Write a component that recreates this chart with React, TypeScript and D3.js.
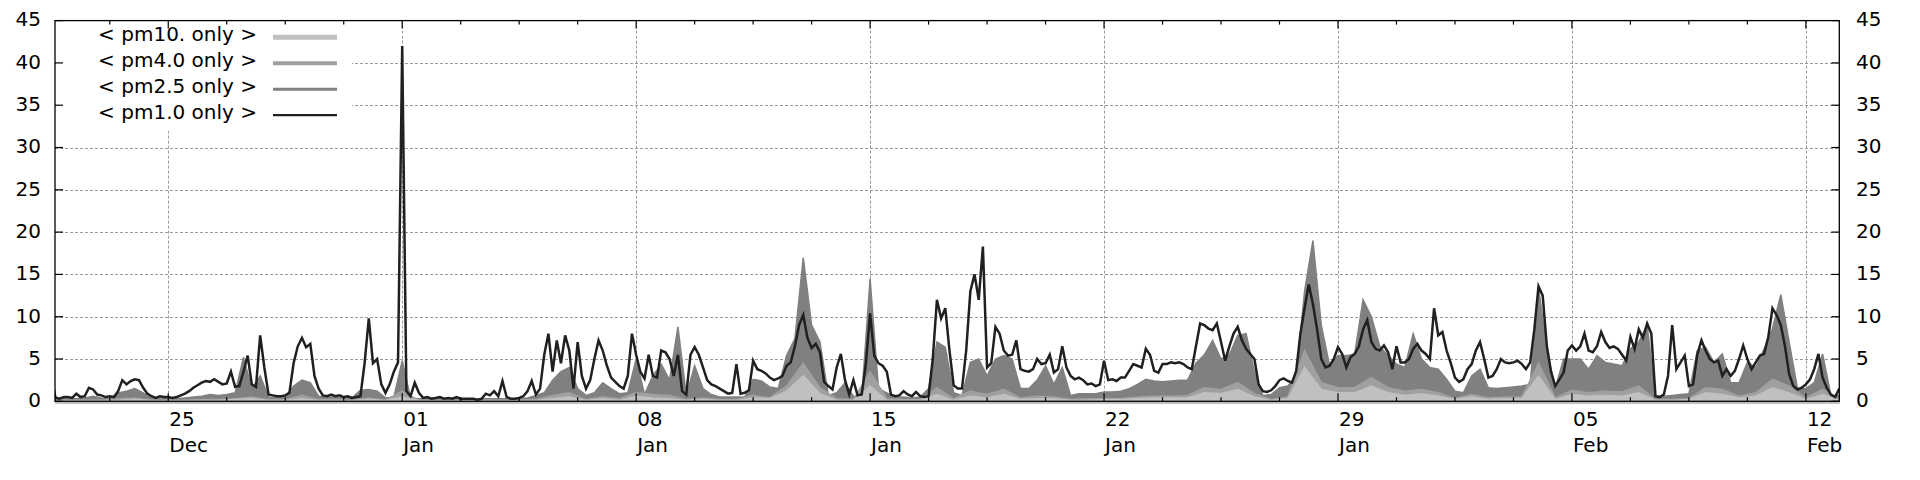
import { useEffect, useRef } from "react";
import * as d3 from "d3";

// first sample of every series: 21 Dec 12:00
const START = Date.UTC(2019, 11, 21, 12);
const HOUR = 3600 * 1000;

// pm1.0, one value every 3 hours
const pm1Only = [
  3.2, 0.4, 0.3, 0.5, // Dec 21 12h..21h
  0.5, 0.4, 0.9, 0.5, 0.6, 1.6, 1.4, 0.8, // Dec 22
  0.7, 0.5, 0.6, 0.5, 1.2, 2.5, 2.0, 2.4,
  2.6, 2.5, 1.6, 0.9, 0.6, 0.4, 0.6, 0.5,
  0.5, 0.4, 0.5, 0.7, 0.9, 1.2, 1.6, 1.9, // Dec 25
  2.2, 2.4, 2.3, 2.6, 2.3, 2.0, 2.1, 3.5,
  1.7, 1.8, 3.5, 5.4, 2.0, 1.7, 7.8, 4.0,
  0.8, 0.7, 0.6, 0.6, 0.7, 1.0, 4.5, 6.5,
  7.5, 6.4, 6.8, 3.0, 1.5, 0.7, 0.6, 0.8,
  0.6, 0.7, 0.5, 0.6, 0.4, 0.5, 0.6, 4.5,
  9.8, 4.5, 5.0, 2.0, 1.0, 2.0, 3.5, 4.6, // Dec 31
  42, 1.2, 0.6, 2.2, 1.0, 0.4, 0.5, 0.3, // Jan 1
  0.4, 0.5, 0.3, 0.4, 0.3, 0.5, 0.3, 0.3,
  0.3, 0.3, 0.2, 0.3, 0.9, 0.7, 1.2, 0.6,
  2.4, 0.5, 0.3, 0.3, 0.4, 0.6, 1.2, 2.4,
  0.8, 1.5, 5.5, 8.0, 3.5, 7.2, 4.5, 7.8,
  6.0, 1.5, 7.0, 3.0, 1.5, 2.5, 5.0, 7.2,
  6.0, 4.2, 2.8, 2.3, 1.8, 1.5, 3.0, 8.0,
  5.5, 3.5, 2.7, 5.5, 3.0, 2.8, 6.0, 5.8, // Jan 8
  5.0, 3.0, 5.5, 1.2, 0.8, 5.5, 6.4, 5.5,
  4.0, 2.5, 2.0, 1.8, 1.5, 1.2, 0.9, 1.0,
  4.4, 0.9, 1.0, 1.3, 4.8, 3.8, 3.6, 3.3,
  2.8, 2.5, 2.7, 3.0, 4.2, 4.6, 6.5, 9.0,
  10.2, 7.5, 6.3, 6.8, 5.8, 2.3, 1.8, 1.4,
  4.0, 5.6, 2.5, 0.8, 2.5, 0.7, 0.8, 4.5,
  10.4, 5.4, 4.5, 4.2, 3.5, 0.8, 0.6, 0.7, // Jan 15
  1.2, 0.8, 0.6, 1.1, 0.6, 0.5, 0.6, 5.0,
  12.0, 9.8, 11.0, 6.0, 1.9, 1.5, 1.5, 6.0,
  13.0, 15.0, 12.0, 18.3, 4.0, 4.5, 8.8, 8.0,
  6.0, 5.4, 5.5, 7.2, 3.8, 3.6, 3.5, 3.8,
  5.0, 4.4, 4.5, 5.5, 3.4, 3.8, 6.5, 4.0,
  3.0, 2.6, 2.8, 2.5, 2.0, 2.1, 1.8, 2.0,
  4.8, 2.5, 2.6, 2.4, 2.8, 2.8, 3.6, 4.4, // Jan 22
  4.2, 4.0, 6.2, 5.5, 3.6, 3.4, 4.4, 4.4,
  4.6, 4.5, 4.6, 4.4, 4.0, 3.8, 6.5, 9.2,
  9.0, 8.6, 8.4, 9.2, 7.0, 4.8, 6.5, 8.0,
  8.8, 7.2, 6.2, 5.6, 5.0, 2.0, 1.2, 1.1,
  1.3, 1.8, 2.5, 2.7, 2.4, 2.2, 3.6, 8.0,
  11.0, 13.8, 11.5, 8.5, 5.0, 4.0, 4.2, 5.0,
  6.4, 5.6, 4.0, 5.2, 5.6, 6.5, 8.5, 9.6, // Jan 29
  7.0, 6.2, 6.0, 6.6, 5.8, 3.8, 6.5, 4.6,
  4.6, 5.0, 6.2, 6.8, 6.0, 5.6, 5.0, 11.0,
  7.8, 8.2, 6.0, 4.5, 2.8, 2.3, 2.6, 3.8,
  4.4, 6.0, 7.0, 5.0, 2.8, 3.0, 3.8, 5.0,
  4.6, 4.5, 4.6, 4.8, 4.4, 3.8, 4.6, 8.5,
  13.6, 12.5, 6.5, 3.5, 1.8, 2.6, 3.4, 6.0,
  6.6, 6.0, 6.5, 8.0, 6.0, 5.8, 6.5, 8.2, // Feb 5
  7.0, 6.3, 6.5, 6.2, 5.5, 4.8, 7.6, 6.2,
  8.5, 7.5, 9.2, 8.0, 0.6, 0.5, 0.8, 3.0,
  9.0, 3.8, 4.6, 5.4, 1.8, 2.0, 5.5, 7.2,
  6.0, 5.0, 4.6, 4.8, 3.0, 3.8, 3.0, 3.6,
  5.0, 6.6, 5.0, 3.8, 4.6, 5.4, 5.6, 7.6,
  11.0, 10.2, 9.0, 6.5, 3.2, 1.8, 1.4, 1.6,
  2.0, 2.6, 3.8, 5.6, 2.8, 1.6, 0.8, 0.5, // Feb 12
  1.5,
];

// pm2.5, one value every 6 hours
const pm25Only = [
  0.8, 0.3,
  0.3, 0.3, 0.4, 0.6,
  0.4, 0.3, 1.0, 1.2,
  1.5, 1.0, 0.4, 0.3,
  0.3, 0.3, 0.4, 0.5, // Dec 25
  0.6, 0.8, 0.7, 0.8,
  1.0, 5.2, 1.5, 3.0,
  0.5, 0.4, 0.5, 1.8,
  2.5, 2.2, 0.6, 0.5,
  0.5, 0.4, 0.4, 1.3,
  1.4, 1.2, 0.4, 0.5,
  4.8, 0.4, 0.3, 0.3, // Jan 1
  0.3, 0.3, 0.3, 0.3,
  0.3, 0.2, 0.3, 0.3,
  0.3, 0.3, 0.3, 0.4,
  0.7, 1.0, 2.5, 3.5,
  4.0, 1.5, 0.7, 1.0,
  2.2, 1.5, 0.9, 1.0,
  5.0, 0.8, 3.0, 4.4, // Jan 8
  2.5, 8.8, 0.7, 4.2,
  1.5, 0.8, 0.5, 0.5,
  0.5, 0.5, 2.6, 2.4,
  1.7, 1.5, 5.4, 7.4,
  17.0, 9.0, 7.0, 0.7,
  1.0, 2.2, 0.6, 0.5,
  14.5, 1.5, 1.0, 0.5, // Jan 15
  0.5, 0.4, 0.5, 1.5,
  7.0, 6.4, 1.0, 0.7,
  4.6, 5.0, 3.0, 5.0,
  5.4, 5.0, 1.5, 1.5,
  2.5, 4.2, 2.0, 4.0,
  0.7, 0.9, 0.9, 0.9,
  1.1, 1.1, 1.2, 1.5, // Jan 22
  2.0, 2.6, 2.4, 2.3,
  2.4, 2.5, 2.5, 4.5,
  5.5, 7.2, 5.0, 5.5,
  7.8, 8.0, 3.5, 0.7,
  0.8, 1.6, 1.8, 3.0,
  13.0, 19.0, 9.0, 4.2,
  5.4, 5.4, 5.6, 12.0, // Jan 29
  10.0, 6.5, 5.4, 4.4,
  4.0, 8.0, 5.0, 4.0,
  3.8, 2.6, 1.2, 1.0,
  3.0, 3.8, 1.6, 1.5,
  1.6, 1.7, 1.8, 2.0,
  13.5, 6.0, 1.5, 5.0,
  5.0, 5.0, 3.8, 5.4, // Feb 5
  4.6, 4.4, 4.2, 6.2,
  7.0, 9.0, 0.6, 0.6,
  0.7, 0.8, 0.9, 6.0,
  6.4, 4.6, 5.6, 2.2,
  2.2, 4.6, 4.0, 6.2,
  8.6, 12.6, 7.0, 1.5,
  1.5, 2.2, 5.6, 0.7, // Feb 12
  0.7,
];

// pm4.0, one value every 12 hours
const pm4Only = [
  0.2,
  0.1, 0.1, 0.1, 0.3, 0.4, 0.1, 0.1, 0.1, 0.2, 0.2, 0.3, 0.5, 0.2, 0.2, // Dec 22..31
  0.7, 0.2, 0.2, 0.1, 0.4, 0.1,
  1.2, 0.1, 0.1, 0.1, 0.1, 0.1, 0.1, 0.1, 0.2, 0.7, 1.0, 0.2, 0.5, 0.3, // Jan 1..7
  1.0, 0.8, 0.7, 0.2, 0.4, 0.2, 0.2, 0.7, 0.4, 1.8, 4.5, 1.6, 0.3, 0.2,
  3.5, 0.3, 0.2, 0.2, 1.6, 0.3, 1.2, 0.8, 1.4, 0.4, 0.6, 0.5, 0.2, 0.3,
  0.3, 0.3, 0.5, 0.6, 0.6, 0.7, 1.6, 1.4, 2.2, 0.9, 0.2, 0.5, 6.0, 2.2,
  1.6, 1.6, 2.8, 1.6, 1.2, 1.4, 1.0, 0.3, 0.8, 0.4, 0.5, 0.5, 4.5, 0.4, // Jan 29..Feb 4
  1.3, 1.0, 1.2, 1.1, 1.8, 0.2, 0.2, 0.3, 1.6, 1.4, 0.6, 1.0, 2.6, 1.8,
  0.4, 1.4,
  0.2,
];

// pm10, one value every 12 hours
const pm10Only = [
  0.1,
  0.1, 0.1, 0.1, 0.1, 0.2, 0.1, 0.1, 0.1, 0.1, 0.1, 0.2, 0.3, 0.1, 0.1, // Dec 22..31
  0.3, 0.1, 0.1, 0.1, 0.2, 0.1,
  0.5, 0.1, 0.1, 0.1, 0.1, 0.1, 0.1, 0.1, 0.1, 0.3, 0.5, 0.1, 0.3, 0.1, // Jan 1..7
  0.6, 0.4, 0.3, 0.1, 0.2, 0.1, 0.1, 0.4, 0.3, 1.2, 3.0, 0.9, 0.1, 0.1,
  1.8, 0.1, 0.1, 0.1, 0.8, 0.1, 0.6, 0.4, 0.8, 0.2, 0.3, 0.3, 0.1, 0.1,
  0.2, 0.2, 0.3, 0.4, 0.4, 0.4, 1.0, 0.9, 1.4, 0.5, 0.1, 0.3, 4.0, 1.4,
  1.0, 1.0, 1.8, 1.0, 0.7, 0.9, 0.6, 0.2, 0.5, 0.2, 0.3, 0.3, 3.0, 0.2, // Jan 29..Feb 4
  0.8, 0.6, 0.7, 0.6, 1.0, 0.1, 0.1, 0.2, 1.0, 0.8, 0.4, 0.6, 1.6, 1.0,
  0.2, 0.8,
  0.1,
];

const yTicks = [0, 5, 10, 15, 20, 25, 30, 35, 40, 45];

const legendRows = [
  { name: "< pm10. only >", color: "#c0c0c0", width: 5 },
  { name: "< pm4.0 only >", color: "#a0a0a0", width: 4 },
  { name: "< pm2.5 only >", color: "#808080", width: 3 },
  { name: "< pm1.0 only >", color: "#202020", width: 2.2 },
];

interface Point {
  t: Date;
  v: number;
}

const toPoints = (values: number[], stepHours: number): Point[] =>
  values.map((v, i) => ({ t: new Date(START + i * stepHours * HOUR), v }));

export default function App() {
  const svgRef = useRef<SVGSVGElement | null>(null);

  useEffect(() => {
    if (!svgRef.current) return;

    const left = 55;
    const right = 1839.3;
    const top = 20.6;
    const bottom = 401.3;
    const font = "'DejaVu Sans', sans-serif";

    const x = d3
      .scaleUtc()
      .domain([new Date(Date.UTC(2019, 11, 21, 14, 40)), new Date(Date.UTC(2020, 1, 13))])
      .range([left, right]);
    const y = d3.scaleLinear().domain([0, 45]).range([bottom, top]);

    const svg = d3.select(svgRef.current);
    svg.selectAll("*").remove();

    svg.append("rect").attr("width", 1920).attr("height", 480).attr("fill", "#fff");

    // ticks every week, minor every 1.75 days
    const first = Date.UTC(2019, 11, 25);
    const day = 24 * HOUR;
    const [d0, d1] = x.domain().map((d) => d.getTime());
    const majors: Date[] = [];
    const minors: Date[] = [];
    for (let k = -4; k < 40; k++) {
      const t = first + k * 1.75 * day;
      if (t < d0 || t > d1) continue;
      if (k % 4 === 0) majors.push(new Date(t));
      else minors.push(new Date(t));
    }

    // grid
    const grid = svg
      .append("g")
      .attr("stroke", "#9a9a9a")
      .attr("stroke-width", 1)
      .attr("stroke-dasharray", "3,2");
    yTicks
      .filter((v) => v > 0 && v < 45)
      .forEach((v) => {
        grid
          .append("line")
          .attr("x1", left)
          .attr("x2", right)
          .attr("y1", Math.round(y(v)) + 0.5)
          .attr("y2", Math.round(y(v)) + 0.5);
      });
    majors.forEach((t) => {
      const px = Math.round(x(t)) + 0.5;
      grid.append("line").attr("x1", px).attr("x2", px).attr("y1", top).attr("y2", bottom);
    });

    // opaque key box
    svg
      .append("rect")
      .attr("x", left + 1)
      .attr("y", top + 1)
      .attr("width", 351 - left)
      .attr("height", 130 - top)
      .attr("fill", "#fff");

    // data
    svg
      .append("clipPath")
      .attr("id", "plot-clip")
      .append("rect")
      .attr("x", left)
      .attr("y", top)
      .attr("width", right - left)
      .attr("height", bottom - top + 3);

    const plot = svg.append("g").attr("clip-path", "url(#plot-clip)");

    const area = d3
      .area<Point>()
      .x((d) => x(d.t))
      .y0(y(0) + 2)
      .y1((d) => y(d.v));

    const bands: [number[], number, string][] = [
      [pm25Only, 6, "#808080"],
      [pm4Only, 12, "#a0a0a0"],
      [pm10Only, 12, "#c0c0c0"],
    ];
    bands.forEach(([values, step, color]) => {
      plot
        .append("path")
        .datum(toPoints(values, step))
        .attr("fill", color)
        .attr("stroke", color)
        .attr("stroke-width", 1.5)
        .attr("d", area);
    });

    const line = d3
      .line<Point>()
      .x((d) => x(d.t))
      .y((d) => y(d.v));

    plot
      .append("path")
      .datum(toPoints(pm1Only, 3))
      .attr("fill", "none")
      .attr("stroke", "#202020")
      .attr("stroke-width", 2.5)
      .attr("d", line);

    // border
    svg
      .append("rect")
      .attr("x", left)
      .attr("y", top)
      .attr("width", right - left)
      .attr("height", bottom - top)
      .attr("fill", "none")
      .attr("stroke", "#000")
      .attr("stroke-width", 1.3);

    // tics
    const tics = svg.append("g").attr("stroke", "#000").attr("stroke-width", 1.2);
    yTicks.forEach((v) => {
      const py = y(v);
      tics.append("line").attr("x1", left).attr("x2", left + 8).attr("y1", py).attr("y2", py);
      tics.append("line").attr("x1", right).attr("x2", right - 8).attr("y1", py).attr("y2", py);
    });
    majors.forEach((t) => {
      const px = x(t);
      tics.append("line").attr("x1", px).attr("x2", px).attr("y1", bottom).attr("y2", bottom - 8);
      tics.append("line").attr("x1", px).attr("x2", px).attr("y1", top).attr("y2", top + 8);
    });
    minors.forEach((t) => {
      const px = x(t);
      tics.append("line").attr("x1", px).attr("x2", px).attr("y1", bottom).attr("y2", bottom - 4);
      tics.append("line").attr("x1", px).attr("x2", px).attr("y1", top).attr("y2", top + 4);
    });

    // tick labels
    const labels = svg
      .append("g")
      .attr("font-family", font)
      .attr("font-size", 20)
      .attr("fill", "#000");
    yTicks.forEach((v) => {
      labels
        .append("text")
        .attr("x", 41)
        .attr("y", y(v) + 5.8)
        .attr("text-anchor", "end")
        .text(v);
      labels
        .append("text")
        .attr("x", 1856)
        .attr("y", y(v) + 5.8)
        .text(v);
    });
    const fmtDay = d3.utcFormat("%d");
    const fmtMonth = d3.utcFormat("%b");
    majors.forEach((t) => {
      const px = x(t) + 1;
      labels.append("text").attr("x", px).attr("y", 426).text(fmtDay(t));
      labels.append("text").attr("x", px).attr("y", 451.7).text(fmtMonth(t));
    });

    // key
    const key = svg.append("g").attr("font-family", font).attr("font-size", 20);
    legendRows.forEach((row, i) => {
      const cy = 37.2 + i * 26;
      key
        .append("text")
        .attr("x", 257)
        .attr("y", cy + 3.6)
        .attr("text-anchor", "end")
        .text(row.name);
      key
        .append("line")
        .attr("x1", 273)
        .attr("x2", 337)
        .attr("y1", cy)
        .attr("y2", cy)
        .attr("stroke", row.color)
        .attr("stroke-width", row.width);
    });
  }, []);

  return (
    <svg
      ref={svgRef}
      width={1920}
      height={480}
      style={{ position: "absolute", left: 0, top: 0, display: "block" }}
    />
  );
}
